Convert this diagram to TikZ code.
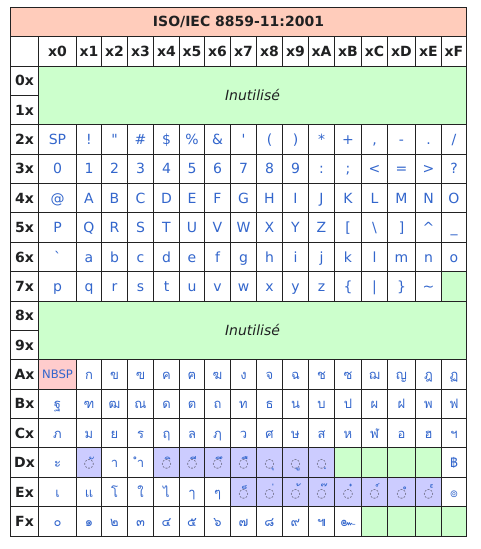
\documentclass[tikz,border=0pt]{standalone}
\usepackage{fontspec}
\newfontfamily\dv{DejaVu Sans}
\newfontfamily\thai[Script=Thai]{Loma}
\usetikzlibrary{calc}
\definecolor{gridcol}{HTML}{222222}
\definecolor{headcol}{HTML}{202122}
\definecolor{linkblue}{HTML}{3366CC}
\definecolor{circcol}{HTML}{555566}
\definecolor{titlebg}{HTML}{FFCCBB}
\definecolor{greenbg}{HTML}{CCFFCC}
\definecolor{lavbg}{HTML}{CCCCFF}
\definecolor{pinkbg}{HTML}{FFCCCC}
\tikzset{
  gridline/.style={draw=gridcol, line width=1pt},
  celltext/.style={font=\dv\fontsize{14}{16}\selectfont, text=linkblue, inner sep=0pt,
    text height=10.2pt, text depth=0pt, anchor=center},
  thaitext/.style={celltext, font=\thai\fontsize{13}{15}\selectfont},
  smalltext/.style={celltext, font=\dv\fontsize{11.6}{14}\selectfont, text height=8.5pt},
  headtext/.style={celltext, text=headcol, font=\dv\bfseries\fontsize{14}{16}\selectfont},
  inutext/.style={celltext, text=headcol, font=\dv\itshape\fontsize{14}{16}\selectfont},
}
\newcommand\dotc{{\dv\fontsize{12}{14}\selectfont\color{circcol}◌}}
\newcommand\putcell[4][]{\pgfmathtruncatemacro\pcA{#2+1}\pgfmathtruncatemacro\prA{#3+1}%
  \path (X#2|-Y#3) -- (X\pcA|-Y\prA) node[midway,celltext,#1] (n-#2-#3) {#4};}
\newcommand\fillcell[3]{\pgfmathtruncatemacro\pcA{#2+1}\pgfmathtruncatemacro\prA{#3+1}%
  \fill[#1] (X#2|-Y#3) rectangle (X\pcA|-Y\prA);}
\begin{document}
\begin{tikzpicture}[x=1pt,y=-1pt]
\useasboundingbox (0,0) rectangle (481,549);
\fill[white] (0,0) rectangle (481,549);
\foreach \v [count=\i from 0] in {38.5,76.5,101.5,127.5,153.5,179.5,204.5,230.5,256.5,282.5,308.5,334.5,361.5,387.5,415.5,441.5,466.5}
  {\coordinate (X\i) at (\v,0);}
\foreach \v [count=\i from 0] in {66,95.4,124.75,154.1,183.5,212.9,242.25,271.6,301,330.4,359.75,389.1,418.5,447.9,477.25,506.6,536}
  {\coordinate (Y\i) at (0,\v);}
\coordinate (L) at (10.5,0);
\coordinate (YT) at (0,7);
\coordinate (YH) at (0,36.5);
% fills
\fill[titlebg] (L|-YT) rectangle (X16|-YH);
\fill[greenbg] (X0|-Y0) rectangle (X16|-Y2);
\fill[greenbg] (X0|-Y8) rectangle (X16|-Y10);
\fillcell{greenbg}{15}{7}
\foreach \c in {11,...,14} {\fillcell{greenbg}{\c}{13}}
\foreach \c in {12,...,15} {\fillcell{greenbg}{\c}{15}}
\fillcell{lavbg}{1}{13}
\foreach \c in {4,...,10} {\fillcell{lavbg}{\c}{13}}
\foreach \c in {7,...,14} {\fillcell{lavbg}{\c}{14}}
\fillcell{pinkbg}{0}{10}
% grid
\draw[gridline] (L|-YT) rectangle (X16|-Y16);
\draw[gridline] (L|-YH) -- (X16|-YH);
\foreach \j in {0,2,3,4,5,6,7,8,10,11,12,13,14,15} {\draw[gridline] (L|-Y\j) -- (X16|-Y\j);}
\draw[gridline] (L|-Y1) -- (X0|-Y1);
\draw[gridline] (L|-Y9) -- (X0|-Y9);
\draw[gridline] (X0|-YH) -- (X0|-Y16);
\foreach \i in {1,...,15} {
  \draw[gridline] (X\i|-YH) -- (X\i|-Y0);
  \draw[gridline] (X\i|-Y2) -- (X\i|-Y8);
  \draw[gridline] (X\i|-Y10) -- (X\i|-Y16);
}
% title and headers
\path (L|-YT) -- (X16|-YH) node[midway,headtext] (title) {ISO/IEC 8859-11:2001};
\foreach \t [count=\c from 0] in {x0,x1,x2,x3,x4,x5,x6,x7,x8,x9,xA,xB,xC,xD,xE,xF} {
  \pgfmathtruncatemacro\pcA{\c+1}
  \path (X\c|-YH) -- (X\pcA|-Y0) node[midway,headtext] (h-\c) {\t};
}
\foreach \t [count=\r from 0] in {0x,1x,2x,3x,4x,5x,6x,7x,8x,9x,Ax,Bx,Cx,Dx,Ex,Fx} {
  \pgfmathtruncatemacro\prA{\r+1}
  \path (L|-Y\r) -- (X0|-Y\prA) node[midway,headtext] (r-\r) {\t};
}
\path (X0|-Y0) -- (X16|-Y2) node[midway,inutext] (u1) {Inutilisé};
\path (X0|-Y8) -- (X16|-Y10) node[midway,inutext] (u2) {Inutilisé};
% ASCII rows
\foreach \t [count=\c from 0] in {SP,!,",\#,\$,\%,\&,',{(},{)},*,+,{,},-,.,/} {\putcell{\c}{2}{\t}}
\foreach \t [count=\c from 0] in {0,1,2,3,4,5,6,7,8,9,:,;,<,=,>,?} {\putcell{\c}{3}{\t}}
\foreach \t [count=\c from 0] in {@,A,B,C,D,E,F,G,H,I,J,K,L,M,N,O} {\putcell{\c}{4}{\t}}
\foreach \t [count=\c from 0] in {P,Q,R,S,T,U,V,W,X,Y,Z,{[},\textbackslash,{]},\textasciicircum,\_} {\putcell{\c}{5}{\t}}
\foreach \t [count=\c from 0] in {`,a,b,c,d,e,f,g,h,i,j,k,l,m,n,o} {\putcell{\c}{6}{\t}}
\foreach \t [count=\c from 0] in {p,q,r,s,t,u,v,w,x,y,z,\{,|,\},\textasciitilde} {\putcell{\c}{7}{\t}}
% Thai rows
\putcell[smalltext]{0}{10}{NBSP}
\foreach \t [count=\c from 1] in {ก,ข,ฃ,ค,ฅ,ฆ,ง,จ,ฉ,ช,ซ,ฌ,ญ,ฎ,ฏ} {\putcell[thaitext]{\c}{10}{\t}}
\foreach \t [count=\c from 0] in {ฐ,ฑ,ฒ,ณ,ด,ต,ถ,ท,ธ,น,บ,ป,ผ,ฝ,พ,ฟ} {\putcell[thaitext]{\c}{11}{\t}}
\foreach \t [count=\c from 0] in {ภ,ม,ย,ร,ฤ,ล,ฦ,ว,ศ,ษ,ส,ห,ฬ,อ,ฮ,ฯ} {\putcell[thaitext]{\c}{12}{\t}}
\foreach \t [count=\c from 0] in {ะ,\dotc ั,า,ำ,\dotc ิ,\dotc ี,\dotc ึ,\dotc ื,\dotc ุ,\dotc ู,\dotc ฺ} {\putcell[thaitext]{\c}{13}{\t}}
\putcell[thaitext]{15}{13}{฿}
\foreach \t [count=\c from 0] in {เ,แ,โ,ใ,ไ,ๅ,ๆ,\dotc ็,\dotc ่,\dotc ้,\dotc ๊,\dotc ๋,\dotc ์,\dotc ํ,\dotc ๎,๏} {\putcell[thaitext]{\c}{14}{\t}}
\foreach \t [count=\c from 0] in {๐,๑,๒,๓,๔,๕,๖,๗,๘,๙,๚,๛} {\putcell[thaitext]{\c}{15}{\t}}
\end{tikzpicture}
\end{document}
